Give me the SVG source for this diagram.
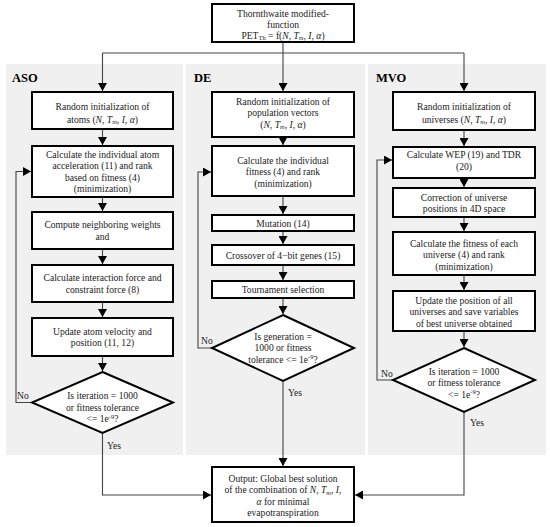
<svg xmlns="http://www.w3.org/2000/svg" width="550" height="527" viewBox="0 0 550 527">
<style>
.panel{fill:#f0f0f0;stroke:none}
.box{fill:#fff;stroke:#000;stroke-width:2}
.t{font-family:"Liberation Serif","Times New Roman",serif;font-size:9.6px;fill:#222;text-anchor:middle}
.lab{font-family:"Liberation Serif","Times New Roman",serif;font-size:9.6px;fill:#222}
.hd{font-family:"Liberation Serif","Times New Roman",serif;font-size:12.5px;font-weight:bold;fill:#000}
.c{fill:none;stroke:#444;stroke-width:1.1}
.i{font-style:italic}
.sub{font-size:6.5px}
</style>
<defs>
<marker id="ah" markerUnits="userSpaceOnUse" markerWidth="9" markerHeight="9" refX="8" refY="4.5" orient="auto">
<path d="M0,0 L8,4.5 L0,9 Z" fill="#000"/>
</marker>
</defs>
<g id="panels">
<rect class="panel" x="6" y="64" width="177" height="391"/>
<rect class="panel" x="186" y="64" width="179" height="391"/>
<rect class="panel" x="368" y="64" width="178" height="391"/>
<text class="hd" x="12" y="82">ASO</text>
<text class="hd" x="194" y="82">DE</text>
<text class="hd" x="376" y="82">MVO</text>
</g>
<g id="connectors">
<path class="c" d="M283,42 V53 M102.5,53 H464"/>
<path class="c" d="M102.5,53 V91" marker-end="url(#ah)"/>
<path class="c" d="M283,53 V91" marker-end="url(#ah)"/>
<path class="c" d="M464,53 V91" marker-end="url(#ah)"/>
<path class="c" d="M102.5,129 V145" marker-end="url(#ah)"/>
<path class="c" d="M102.5,197 V211" marker-end="url(#ah)"/>
<path class="c" d="M102.5,249 V264" marker-end="url(#ah)"/>
<path class="c" d="M102.5,302 V317" marker-end="url(#ah)"/>
<path class="c" d="M102.5,356 V371" marker-end="url(#ah)"/>
<path class="c" d="M32,402.5 H16 V171.5 H31" marker-end="url(#ah)"/>
<path class="c" d="M102.5,433 V495 H211" marker-end="url(#ah)"/>
<path class="c" d="M283,137 V145" marker-end="url(#ah)"/>
<path class="c" d="M283,196 V214" marker-end="url(#ah)"/>
<path class="c" d="M283,231 V244" marker-end="url(#ah)"/>
<path class="c" d="M283,265 V280" marker-end="url(#ah)"/>
<path class="c" d="M283,298 V314" marker-end="url(#ah)"/>
<path class="c" d="M212,348 H198 V172 H211" marker-end="url(#ah)"/>
<path class="c" d="M283,381 V466" marker-end="url(#ah)"/>
<path class="c" d="M464,130 V146" marker-end="url(#ah)"/>
<path class="c" d="M464,178 V187" marker-end="url(#ah)"/>
<path class="c" d="M464,217 V231" marker-end="url(#ah)"/>
<path class="c" d="M464,275 V290" marker-end="url(#ah)"/>
<path class="c" d="M464,331 V347" marker-end="url(#ah)"/>
<path class="c" d="M393,380 H377 V160 H392" marker-end="url(#ah)"/>
<path class="c" d="M464,412 V495 H355" marker-end="url(#ah)"/>
<text class="lab" x="17" y="399">No</text>
<text class="lab" x="107" y="448.5">Yes</text>
<text class="lab" x="201" y="343.5">No</text>
<text class="lab" x="288" y="395.5">Yes</text>
<text class="lab" x="381" y="376.5">No</text>
<text class="lab" x="470" y="425.5">Yes</text>
</g>
<g id="top">
<rect class="box" x="212" y="4" width="142" height="38"/>
<text class="t" x="283" y="16.5">Thornthwaite modified-</text>
<text class="t" x="283" y="27.5">function</text>
<text class="t" x="283" y="38.5">PET<tspan class="sub" dy="1.5">Th</tspan><tspan dy="-1.5"> = f(</tspan><tspan class="i">N</tspan>, <tspan class="i">T</tspan><tspan class="sub i" dy="1.5">m</tspan><tspan dy="-1.5">, </tspan><tspan class="i">I</tspan>, <tspan class="i">α</tspan>)</text>
</g>
<g id="aso1">
<rect class="box" x="32" y="92" width="141" height="37"/>
<text class="t" x="102.5" y="109.5">Random initialization of</text>
<text class="t" x="102.5" y="122.5">atoms (<tspan class="i">N</tspan>, <tspan class="i">T</tspan><tspan class="sub i" dy="1.5">m</tspan><tspan dy="-1.5">, </tspan><tspan class="i">I</tspan>, <tspan class="i">α</tspan>)</text>
</g>
<g id="aso2">
<rect class="box" x="32" y="146" width="141" height="51"/>
<text class="t" x="102.5" y="157.5">Calculate the individual atom</text>
<text class="t" x="102.5" y="169">acceleration (11) and rank</text>
<text class="t" x="102.5" y="180.5">based on fitness (4)</text>
<text class="t" x="102.5" y="192">(minimization)</text>
</g>
<g id="aso3">
<rect class="box" x="32" y="212" width="141" height="37"/>
<text class="t" x="102.5" y="228">Compute neighboring weights</text>
<text class="t" x="102.5" y="239.5">and</text>
</g>
<g id="aso4">
<rect class="box" x="32" y="265" width="141" height="37"/>
<text class="t" x="102.5" y="281">Calculate interaction force and</text>
<text class="t" x="102.5" y="292.5">constraint force (8)</text>
</g>
<g id="aso5">
<rect class="box" x="32" y="318" width="141" height="38"/>
<text class="t" x="102.5" y="334.5">Update atom velocity and</text>
<text class="t" x="102.5" y="346">position (11, 12)</text>
</g>
<g id="aso6">
<polygon class="box" points="102.5,372 173,402.5 102.5,433 32,402.5"/>
<text class="t" x="102.5" y="399">Is iteration = 1000</text>
<text class="t" x="102.5" y="410.5">or fitness tolerance</text>
<text class="t" x="102.5" y="422">&lt;= 1e<tspan class="sub" dy="-3.5">-9</tspan><tspan dy="3.5">?</tspan></text>
</g>
<g id="de1">
<rect class="box" x="212" y="92" width="142" height="45"/>
<text class="t" x="283" y="104.5">Random initialization of</text>
<text class="t" x="283" y="116">population vectors</text>
<text class="t" x="283" y="127.5">(<tspan class="i">N</tspan>, <tspan class="i">T</tspan><tspan class="sub i" dy="1.5">m</tspan><tspan dy="-1.5">, </tspan><tspan class="i">I</tspan>, <tspan class="i">α</tspan>)</text>
</g>
<g id="de2">
<rect class="box" x="212" y="146" width="142" height="50"/>
<text class="t" x="283" y="163.5">Calculate the individual</text>
<text class="t" x="283" y="175">fitness (4) and rank</text>
<text class="t" x="283" y="186.5">(minimization)</text>
</g>
<g id="de3">
<rect class="box" x="212" y="215" width="142" height="16"/>
<text class="t" x="283" y="226.5">Mutation (14)</text>
</g>
<g id="de4">
<rect class="box" x="212" y="245" width="142" height="20"/>
<text class="t" x="283" y="258.5">Crossover of 4−bit genes (15)</text>
</g>
<g id="de5">
<rect class="box" x="212" y="281" width="142" height="17"/>
<text class="t" x="283" y="293">Tournament selection</text>
</g>
<g id="de6">
<polygon class="box" points="283,315 354,348 283,381 212,348"/>
<text class="t" x="283" y="339.5">Is generation =</text>
<text class="t" x="283" y="351">1000 or fitness</text>
<text class="t" x="283" y="362.5">tolerance &lt;= 1e<tspan class="sub" dy="-3.5">-9</tspan><tspan dy="3.5">?</tspan></text>
</g>
<g id="mvo1">
<rect class="box" x="393" y="92" width="142" height="38"/>
<text class="t" x="464" y="109.5">Random initialization of</text>
<text class="t" x="464" y="122.5">universes (<tspan class="i">N</tspan>, <tspan class="i">T</tspan><tspan class="sub i" dy="1.5">m</tspan><tspan dy="-1.5">, </tspan><tspan class="i">I</tspan>, <tspan class="i">α</tspan>)</text>
</g>
<g id="mvo2">
<rect class="box" x="393" y="147" width="142" height="31"/>
<text class="t" x="464" y="157.5">Calculate WEP (19) and TDR</text>
<text class="t" x="464" y="169.5">(20)</text>
</g>
<g id="mvo3">
<rect class="box" x="393" y="188" width="142" height="29"/>
<text class="t" x="464" y="200.5">Correction of universe</text>
<text class="t" x="464" y="212">positions in 4D space</text>
</g>
<g id="mvo4">
<rect class="box" x="393" y="232" width="142" height="43"/>
<text class="t" x="464" y="246.5">Calculate the fitness of each</text>
<text class="t" x="464" y="258">universe (4) and rank</text>
<text class="t" x="464" y="269.5">(minimization)</text>
</g>
<g id="mvo5">
<rect class="box" x="393" y="291" width="142" height="40"/>
<text class="t" x="464" y="303.5">Update the position of all</text>
<text class="t" x="464" y="315">universes and save variables</text>
<text class="t" x="464" y="326.5">of best universe obtained</text>
</g>
<g id="mvo6">
<polygon class="box" points="464,348 535,380 464,412 393,380"/>
<text class="t" x="464" y="374.5">Is iteration = 1000</text>
<text class="t" x="464" y="386">or fitness tolerance</text>
<text class="t" x="464" y="397.5">&lt;= 1e<tspan class="sub" dy="-3.5">-9</tspan><tspan dy="3.5">?</tspan></text>
</g>
<g id="output">
<rect class="box" x="212" y="467" width="142" height="55"/>
<text class="t" x="283" y="481.5">Output: Global best solution</text>
<text class="t" x="283" y="493">of the combination of <tspan class="i">N</tspan>, <tspan class="i">T</tspan><tspan class="sub i" dy="1.5">m</tspan><tspan dy="-1.5">, </tspan><tspan class="i">I</tspan>,</text>
<text class="t" x="283" y="504.5"><tspan class="i">α</tspan> for minimal</text>
<text class="t" x="283" y="516">evapotranspiration</text>
</g>
</svg>
